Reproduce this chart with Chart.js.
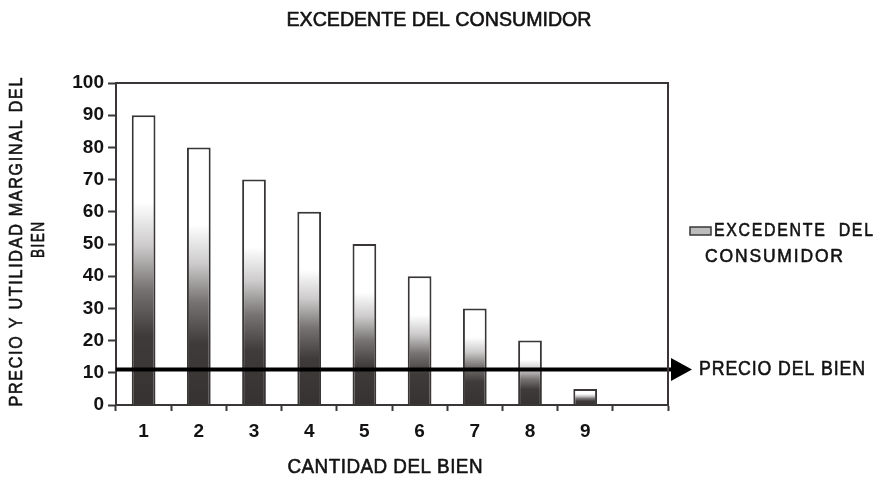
<!DOCTYPE html>
<html lang="es">
<head>
<meta charset="utf-8">
<title>Excedente del consumidor</title>
<script src="https://cdn.jsdelivr.net/npm/chart.js@4/dist/chart.umd.min.js"></script>
<style>
  html, body { margin: 0; padding: 0; background: #ffffff; }
  #wrap { width: 877px; height: 477px; }
</style>
</head>
<body>
<div id="wrap"><canvas id="grafico" width="877" height="477"></canvas></div>
<script>
// Cantidad del bien (eje X); la última categoría queda vacía
const cantidades = ['1', '2', '3', '4', '5', '6', '7', '8', '9', ''];
// Utilidad marginal de cada unidad
const utilidadMarginal = [90, 80, 70, 60, 50, 40, 30, 20, 5, null];
// Precio de mercado del bien
const precioBien = 11;
// Escala vertical
const ejeYMin = 0;
const ejeYMax = 100;
const ejeYPaso = 10;

const tituloGrafico = 'EXCEDENTE DEL CONSUMIDOR';
const tituloEjeX = 'CANTIDAD DEL BIEN';
const tituloEjeY = ['PRECIO Y UTILIDAD MARGINAL DEL', 'BIEN'];
const etiquetaSerie = ['EXCEDENTE  DEL', 'CONSUMIDOR'];
const etiquetaPrecio = 'PRECIO DEL BIEN';

const TINTA = '#141212';
const BORDE = '#3a3636';
const SANS = "'Liberation Sans', Arial, sans-serif";

// Texto estrecho: se comprime en horizontal hasta ocupar el ancho indicado
// y se engruesa ligeramente con un trazo fino
function textoEstrecho(ctx, txt, x, y, ancho, align, espaciado) {
  ctx.save();
  ctx.letterSpacing = (espaciado || 0) + 'px';
  const w = ctx.measureText(txt).width - (espaciado || 0);
  const sx = ancho / w;
  let x0 = x;
  if (align === 'center') x0 = x - ancho / 2;
  else if (align === 'right') x0 = x - ancho;
  ctx.translate(x0, y);
  ctx.scale(sx, 1);
  ctx.textAlign = 'left';
  ctx.textBaseline = 'middle';
  ctx.fillText(txt, 0, 0);
  ctx.strokeStyle = ctx.fillStyle;
  ctx.lineWidth = 0.6;
  ctx.lineJoin = 'round';
  ctx.strokeText(txt, 0, 0);
  ctx.restore();
}

// Degradado de cada barra: blanco arriba, gris oscuro en la base
function degradadoBarra(context) {
  const chart = context.chart;
  const area = chart.chartArea;
  const v = context.parsed ? context.parsed.y : null;
  if (!area || v === null || v === undefined) return '#888888';
  const ys = chart.scales.y;
  const top = ys.getPixelForValue(v);
  const base = ys.getPixelForValue(0);
  if (!isFinite(top) || !isFinite(base) || base - top < 1) return '#888888';
  const g = chart.ctx.createLinearGradient(0, top, 0, base);
  g.addColorStop(0, '#ffffff');
  g.addColorStop(0.30, '#ffffff');
  g.addColorStop(0.45, '#cdcbcb');
  g.addColorStop(0.60, '#777373');
  g.addColorStop(0.76, '#3f3b3b');
  g.addColorStop(1, '#363232');
  return g;
}

// Marco, línea de precio con flecha, leyenda y títulos
const decoracion = {
  id: 'decoracion',
  afterDatasetsDraw(chart) {
    const { ctx, chartArea: a, scales } = chart;
    const yPrecio = scales.y.getPixelForValue(precioBien);
    ctx.save();
    ctx.strokeStyle = '#000000';
    ctx.lineWidth = 4;
    ctx.beginPath();
    ctx.moveTo(a.left, yPrecio);
    ctx.lineTo(a.right + 6, yPrecio);
    ctx.stroke();
    ctx.fillStyle = '#000000';
    ctx.beginPath();
    ctx.moveTo(a.right + 3, yPrecio - 11.5);
    ctx.lineTo(a.right + 24, yPrecio);
    ctx.lineTo(a.right + 3, yPrecio + 11.5);
    ctx.closePath();
    ctx.fill();
    ctx.restore();
  },
  afterDraw(chart) {
    const { ctx, chartArea: a, scales } = chart;
    ctx.save();
    // marco superior y derecho del área de trazado
    ctx.strokeStyle = BORDE;
    ctx.lineWidth = 2;
    ctx.beginPath();
    ctx.moveTo(a.left, a.top);
    ctx.lineTo(a.right, a.top);
    ctx.lineTo(a.right, a.bottom);
    ctx.stroke();

    ctx.fillStyle = TINTA;
    ctx.font = '20px ' + SANS;
    // título
    textoEstrecho(ctx, tituloGrafico, 439, 20, 305, 'center', 0);
    // título eje X
    textoEstrecho(ctx, tituloEjeX, 385, 467, 195, 'center', 0.5);
    // etiqueta del precio
    const yPrecio = scales.y.getPixelForValue(precioBien);
    textoEstrecho(ctx, etiquetaPrecio, 699, yPrecio, 166, 'left', 1);

    // leyenda
    ctx.fillStyle = '#bdbcbc';
    ctx.fillRect(690, 227, 21, 8);
    ctx.strokeStyle = BORDE;
    ctx.lineWidth = 1.5;
    ctx.strokeRect(690, 227, 21, 8);
    ctx.fillStyle = TINTA;
    ctx.font = '19px ' + SANS;
    textoEstrecho(ctx, etiquetaSerie[0], 714, 231, 159, 'left', 2);
    textoEstrecho(ctx, etiquetaSerie[1], 705, 257, 138, 'left', 2);

    // título eje Y (girado, dos líneas)
    ctx.save();
    ctx.translate(17, 242);
    ctx.rotate(-Math.PI / 2);
    textoEstrecho(ctx, tituloEjeY[0], 0, 0, 329, 'center', 2);
    ctx.restore();
    ctx.save();
    ctx.translate(39, 240);
    ctx.rotate(-Math.PI / 2);
    textoEstrecho(ctx, tituloEjeY[1], 0, 0, 36, 'center', 2);
    ctx.restore();
    ctx.restore();
  }
};

new Chart(document.getElementById('grafico'), {
  type: 'bar',
  data: {
    labels: cantidades,
    datasets: [{
      label: etiquetaSerie.join(' '),
      data: utilidadMarginal,
      backgroundColor: degradadoBarra,
      borderColor: BORDE,
      borderWidth: 2,
      borderSkipped: 'bottom',
      barPercentage: 0.43,
      categoryPercentage: 1.0
    }]
  },
  options: {
    responsive: false,
    animation: false,
    devicePixelRatio: 1,
    layout: { padding: { left: 0, right: 209, top: 83, bottom: 0 } },
    plugins: {
      legend: { display: false },
      title: { display: false },
      tooltip: { enabled: false }
    },
    scales: {
      x: {
        offset: true,
        grid: {
          offset: true,
          drawOnChartArea: false,
          drawTicks: true,
          tickLength: 6,
          tickWidth: 2,
          tickColor: BORDE
        },
        border: { display: true, color: BORDE, width: 2 },
        ticks: {
          color: TINTA,
          padding: 9,
          font: { family: SANS, size: 19, weight: 'bold' }
        },
        afterFit(scale) { scale.height = 72; }
      },
      y: {
        min: ejeYMin,
        max: ejeYMax,
        ticks: {
          stepSize: ejeYPaso,
          color: TINTA,
          padding: 4,
          font: { family: SANS, size: 19, weight: 'bold' }
        },
        grid: {
          drawOnChartArea: false,
          drawTicks: true,
          tickLength: 8,
          tickWidth: 2,
          tickColor: BORDE
        },
        border: { display: true, color: BORDE, width: 2 },
        afterFit(scale) { scale.width = 116; }
      }
    }
  },
  plugins: [decoracion]
});
</script>
</body>
</html>
